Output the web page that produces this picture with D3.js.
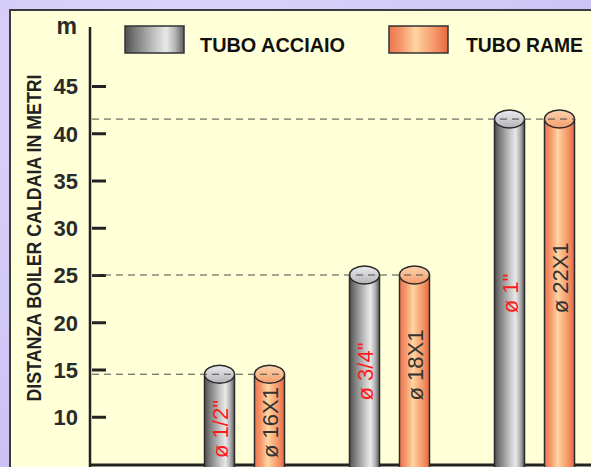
<!DOCTYPE html>
<html>
<head>
<meta charset="utf-8">
<script src="https://cdn.jsdelivr.net/npm/d3@7"></script>
<style>
  body { margin: 0; padding: 0; overflow: hidden; }
  text { font-family: "Liberation Sans", Arial, sans-serif; }
</style>
</head>
<body>
<svg id="chart"></svg>
<script>
// data
const groups = ["1/2", "3/4", "1"];
const series = ["TUBO ACCIAIO", "TUBO RAME"];
const steelLabels = ['ø 1/2"', 'ø 3/4"', 'ø 1"'];
const copperLabels = ["ø 16X1", "ø 18X1", "ø 22X1"];
const distances = [14.5, 25, 41.5];
const yTicks = [10, 15, 20, 25, 30, 35, 40, 45];

const W = 591, H = 467;
const svg = d3.select("#chart").attr("width", W).attr("height", H);
const defs = svg.append("defs");

// gradients
function hGrad(id, stops) {
  const g = defs.append("linearGradient").attr("id", id)
    .attr("x1", "0%").attr("x2", "100%").attr("y1", "0%").attr("y2", "0%");
  stops.forEach(s => g.append("stop").attr("offset", s[0]).attr("stop-color", s[1]));
}
function vGrad(id, stops) {
  const g = defs.append("linearGradient").attr("id", id)
    .attr("x1", "0%").attr("x2", "0%").attr("y1", "0%").attr("y2", "100%");
  stops.forEach(s => g.append("stop").attr("offset", s[0]).attr("stop-color", s[1]));
}
hGrad("steel", [[0, "#4e4e4e"], [0.15, "#767676"], [0.35, "#a2a2a2"], [0.55, "#cdcdcd"], [0.7, "#e8e8e8"], [0.85, "#b4b4b4"], [1, "#5c5c5c"]]);
hGrad("copper", [[0, "#ec7650"], [0.2, "#f5966a"], [0.45, "#ffd6a2"], [0.55, "#fcc08c"], [0.8, "#f59266"], [1, "#e4683f"]]);
vGrad("steelTop", [[0, "#ececf0"], [1, "#b4b4b8"]]);
vGrad("copperTop", [[0, "#fcd4ae"], [1, "#f59c6c"]]);
const bg = defs.append("radialGradient").attr("id", "bg").attr("cx", "30%").attr("cy", "20%").attr("r", "90%");
bg.append("stop").attr("offset", 0).attr("stop-color", "#ddd6fb");
bg.append("stop").attr("offset", 1).attr("stop-color", "#c9c0f2");

svg.append("rect").attr("width", W).attr("height", H).attr("fill", "url(#bg)");
svg.append("rect").attr("x", 10).attr("y", 10).attr("width", W + 20).attr("height", H + 20)
  .attr("fill", "#ffffd8").attr("stroke", "#3c3c3c").attr("stroke-width", 2);

// scales
const y = d3.scaleLinear().domain([5, 45]).range([464, 86]);
const x = d3.scaleBand().domain(groups).range([172, 607]);
const xs = d3.scaleBand().domain(series).range([-50, 50]);
const barW = 30, ry = 9;
const axisX = 90;
const baseY = y(5);

// y axis
const yAxis = svg.append("g")
  .attr("transform", `translate(106,0)`)
  .call(d3.axisLeft(y).tickValues(yTicks).tickSizeInner(14).tickSizeOuter(0).tickPadding(14));
yAxis.select(".domain").remove();
yAxis.selectAll(".tick line").attr("stroke", "#222").attr("stroke-width", 3);
yAxis.selectAll(".tick text")
  .attr("fill", "#2a2a2a").style("font-size", "22px").style("font-weight", "bold")
  .attr("dy", "0.36em");

svg.append("line").attr("x1", axisX).attr("x2", axisX).attr("y1", 27).attr("y2", H)
  .attr("stroke", "#222").attr("stroke-width", 2.5);
svg.append("line").attr("x1", axisX).attr("x2", W).attr("y1", baseY + 1).attr("y2", baseY + 1)
  .attr("stroke", "#222").attr("stroke-width", 3);

svg.append("text").attr("x", 77).attr("y", 34).attr("text-anchor", "end")
  .attr("fill", "#2a2a2a").style("font-size", "23px").style("font-weight", "bold").text("m");

svg.append("text")
  .attr("transform", `translate(41,238) rotate(-90)`)
  .attr("text-anchor", "middle")
  .attr("textLength", 327).attr("lengthAdjust", "spacingAndGlyphs")
  .attr("fill", "#222").style("font-size", "20px").style("font-weight", "bold")
  .text("DISTANZA BOILER CALDAIA IN METRI");

// legend
const legendX = [125, 389];
const legendTextX = [200, 466];
const legendLen = [145, 117];
series.forEach((s, i) => {
  svg.append("rect").attr("x", legendX[i]).attr("y", 26).attr("width", 59).attr("height", 27)
    .attr("fill", i === 0 ? "url(#steel)" : "url(#copper)")
    .attr("stroke", "#333").attr("stroke-width", 1.5);
  svg.append("text").attr("x", legendTextX[i]).attr("y", 52)
    .attr("textLength", legendLen[i]).attr("lengthAdjust", "spacingAndGlyphs")
    .attr("fill", "#111").style("font-size", "20px").style("font-weight", "bold")
    .text(s);
});

// cylinders
const bars = svg.append("g");
groups.forEach((g, gi) => {
  const top = y(distances[gi]);
  series.forEach((s, si) => {
    const cx = x(g) + x.bandwidth() / 2 + xs(s) + xs.bandwidth() / 2;
    const grp = bars.append("g");
    grp.append("rect").attr("x", cx - barW / 2).attr("y", top).attr("width", barW)
      .attr("height", baseY - top + 10)
      .attr("fill", si === 0 ? "url(#steel)" : "url(#copper)");
    [cx - barW / 2, cx + barW / 2].forEach(lx =>
      grp.append("line").attr("x1", lx).attr("x2", lx).attr("y1", top).attr("y2", baseY + 10)
        .attr("stroke", "#2a2a2a").attr("stroke-width", 1.5));
    grp.append("ellipse").attr("cx", cx).attr("cy", top).attr("rx", barW / 2).attr("ry", ry)
      .attr("fill", si === 0 ? "url(#steelTop)" : "url(#copperTop)")
      .attr("stroke", "#2a2a2a").attr("stroke-width", 1.5);
  });
});

// dashed reference lines
groups.forEach((g, gi) => {
  const right = x(g) + x.bandwidth() / 2 + xs(series[1]) + xs.bandwidth() / 2 + barW / 2;
  svg.append("line").attr("x1", axisX + 2).attr("x2", right)
    .attr("y1", y(distances[gi])).attr("y2", y(distances[gi]))
    .attr("stroke", "#4a4a4a").attr("stroke-width", 1).attr("stroke-dasharray", "7,5");
});

// labels inside the pipes
groups.forEach((g, gi) => {
  const top = y(distances[gi]);
  const mid = (top + baseY) / 2;
  const c0 = x(g) + x.bandwidth() / 2 + xs(series[0]) + xs.bandwidth() / 2;
  const c1 = x(g) + x.bandwidth() / 2 + xs(series[1]) + xs.bandwidth() / 2;
  const t0 = svg.append("text").attr("fill", "#ff1a1a").style("font-size", "22px")
    .text(steelLabels[gi]);
  const len = t0.node().getComputedTextLength();
  const start = Math.max(Math.min(mid + len / 2 + 2, baseY - 6), baseY - 6 - (gi === 0 ? 0 : Infinity));
  t0.attr("transform", `translate(${c0 + 8},${start}) rotate(-90)`);
  svg.append("text").attr("fill", "#333").style("font-size", "22px")
    .attr("transform", `translate(${c1 + 8},${start}) rotate(-90)`)
    .text(copperLabels[gi]);
});
</script>
</body>
</html>
